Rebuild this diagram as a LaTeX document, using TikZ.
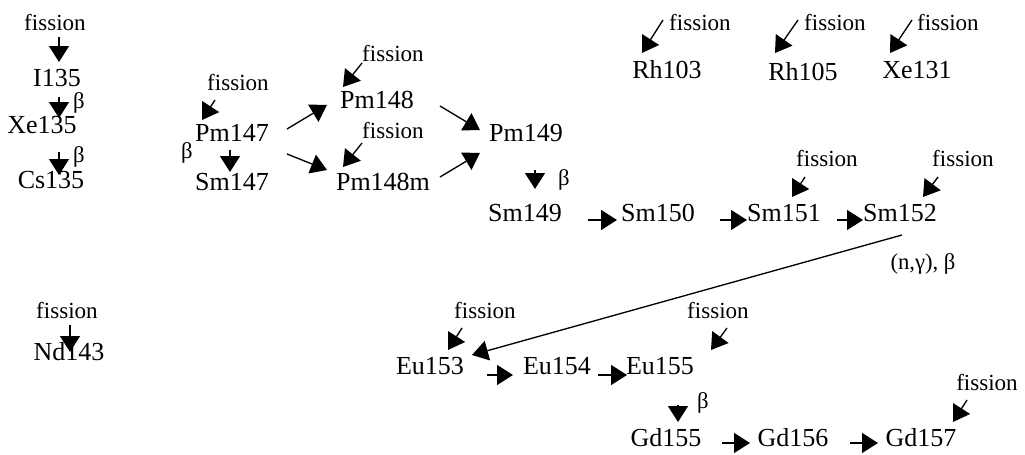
\documentclass[tikz,border=0pt]{standalone}
\usepackage{fontspec}
\setmainfont{Liberation Serif}
\usetikzlibrary{arrows.meta}
\begin{document}
\begin{tikzpicture}[x=0.75pt,y=-0.75pt,
  nuc/.style={inner sep=0pt,font=\fontsize{19.5}{20}\selectfont},
  fis/.style={inner sep=0pt,font=\fontsize{17.3}{18}\selectfont},
  lbl/.style={inner sep=0pt,font=\fontsize{17}{18}\selectfont},
  arr/.style={line width=1pt,-{Triangle[length=12pt,width=15pt]}}]
\useasboundingbox (0,0) rectangle (1025,454);
% fission labels
\node[fis] (fI) at (55,22) {fission};
\node[fis] (fPmA) at (238,82) {fission};
\node[fis] (fPmB) at (393,53) {fission};
\node[fis] (fPmC) at (393,130) {fission};
\node[fis] (fRhA) at (700,22) {fission};
\node[fis] (fRhB) at (835,22) {fission};
\node[fis] (fXe) at (948,22) {fission};
\node[fis] (fSmA) at (827,158) {fission};
\node[fis] (fSmB) at (963,158) {fission};
\node[fis] (fNd) at (67,310) {fission};
\node[fis] (fEuA) at (485,310) {fission};
\node[fis] (fEuC) at (718,310) {fission};
\node[fis] (fGd) at (987,382) {fission};
% nuclides
\node[nuc] (I135) at (57,78) {I135};
\node[nuc] (Xe135) at (42,125) {Xe135};
\node[nuc] (Cs135) at (51,180) {Cs135};
\node[nuc] (Pm147) at (232,133) {Pm147};
\node[nuc] (Sm147) at (232,182) {Sm147};
\node[nuc] (Pm148) at (377,100) {Pm148};
\node[nuc] (Pm148m) at (383,182) {Pm148m};
\node[nuc] (Pm149) at (526,133) {Pm149};
\node[nuc] (Sm149) at (525,213) {Sm149};
\node[nuc] (Sm150) at (658,213) {Sm150};
\node[nuc] (Sm151) at (784,213) {Sm151};
\node[nuc] (Sm152) at (900,213) {Sm152};
\node[nuc] (Rh103) at (667,70) {Rh103};
\node[nuc] (Rh105) at (803,72) {Rh105};
\node[nuc] (Xe131) at (917,70) {Xe131};
\node[nuc] (Nd143) at (69,352) {Nd143};
\node[nuc] (Eu153) at (430,366) {Eu153};
\node[nuc] (Eu154) at (557,366) {Eu154};
\node[nuc] (Eu155) at (660,366) {Eu155};
\node[nuc] (Gd155) at (666,438) {Gd155};
\node[nuc] (Gd156) at (793,438) {Gd156};
\node[nuc] (Gd157) at (921,438) {Gd157};
% beta labels
\node[lbl] (b1) at (79,103) {β};
\node[lbl] (b2) at (79,157) {β};
\node[lbl] (b3) at (187,153) {β};
\node[lbl] (b4) at (564,180) {β};
\node[lbl] (b5) at (703,403) {β};
\node[lbl] (ng) at (923,264) {(n,γ), β};
% arrows
\draw[arr] ([shift={(4,15)}]fI.center) -- ([shift={(2,-16)}]I135.center);
\draw[arr] ([shift={(2,19)}]I135.center) -- ([shift={(17,-7)}]Xe135.center);
\draw[arr] ([shift={(17,27)}]Xe135.center) -- ([shift={(8,-5)}]Cs135.center);
\draw[arr] ([shift={(-23,18)}]fPmA.center) -- ([shift={(-30,-13)}]Pm147.center);
\draw[arr] ([shift={(-2,17)}]Pm147.center) -- ([shift={(-2,-10)}]Sm147.center);
\draw[arr] ([shift={(55,-4)}]Pm147.center) -- ([shift={(-50,5)}]Pm148.center);
\draw[arr] ([shift={(55,21)}]Pm147.center) -- ([shift={(-56,-12)}]Pm148m.center);
\draw[arr] ([shift={(-31,10)}]fPmB.center) -- ([shift={(-34,-13)}]Pm148.center);
\draw[arr] ([shift={(-31,13)}]fPmC.center) -- ([shift={(-40,-15)}]Pm148m.center);
\draw[arr] ([shift={(63,6)}]Pm148.center) -- ([shift={(-46,-3)}]Pm149.center);
\draw[arr] ([shift={(57,-5)}]Pm148m.center) -- ([shift={(-46,20)}]Pm149.center);
\draw[arr] ([shift={(9,37)}]Pm149.center) -- ([shift={(10,-24)}]Sm149.center);
\draw[arr] ([shift={(63,7)}]Sm149.center) -- ([shift={(-41,7)}]Sm150.center);
\draw[arr] ([shift={(62,7)}]Sm150.center) -- ([shift={(-37,7)}]Sm151.center);
\draw[arr] ([shift={(53,7)}]Sm151.center) -- ([shift={(-37,7)}]Sm152.center);
\draw[arr] ([shift={(-22,19)}]fSmA.center) -- ([shift={(8,-16)}]Sm151.center);
\draw[arr] ([shift={(-25,19)}]fSmB.center) -- ([shift={(23,-16)}]Sm152.center);
\draw[arr] ([shift={(2,22)}]Sm152.center) -- ([shift={(42,-11)}]Eu153.center);
\draw[arr] ([shift={(-37,-2)}]fRhA.center) -- ([shift={(-25,-17)}]Rh103.center);
\draw[arr] ([shift={(-37,-2)}]fRhB.center) -- ([shift={(-28,-19)}]Rh105.center);
\draw[arr] ([shift={(-36,-2)}]fXe.center) -- ([shift={(-27,-17)}]Xe131.center);
\draw[arr] ([shift={(3,15)}]fNd.center) -- ([shift={(1,0)}]Nd143.center);
\draw[arr] ([shift={(-23,18)}]fEuA.center) -- ([shift={(18,-16)}]Eu153.center);
\draw[arr] ([shift={(57,9)}]Eu153.center) -- ([shift={(-44,9)}]Eu154.center);
\draw[arr] ([shift={(41,9)}]Eu154.center) -- ([shift={(-33,9)}]Eu155.center);
\draw[arr] ([shift={(9,18)}]fEuC.center) -- ([shift={(51,-16)}]Eu155.center);
\draw[arr] ([shift={(18,39)}]Eu155.center) -- ([shift={(12,-16)}]Gd155.center);
\draw[arr] ([shift={(56,5)}]Gd155.center) -- ([shift={(-43,5)}]Gd156.center);
\draw[arr] ([shift={(57,5)}]Gd156.center) -- ([shift={(-43,5)}]Gd157.center);
\draw[arr] ([shift={(-20,18)}]fGd.center) -- ([shift={(32,-16)}]Gd157.center);
\end{tikzpicture}
\end{document}
